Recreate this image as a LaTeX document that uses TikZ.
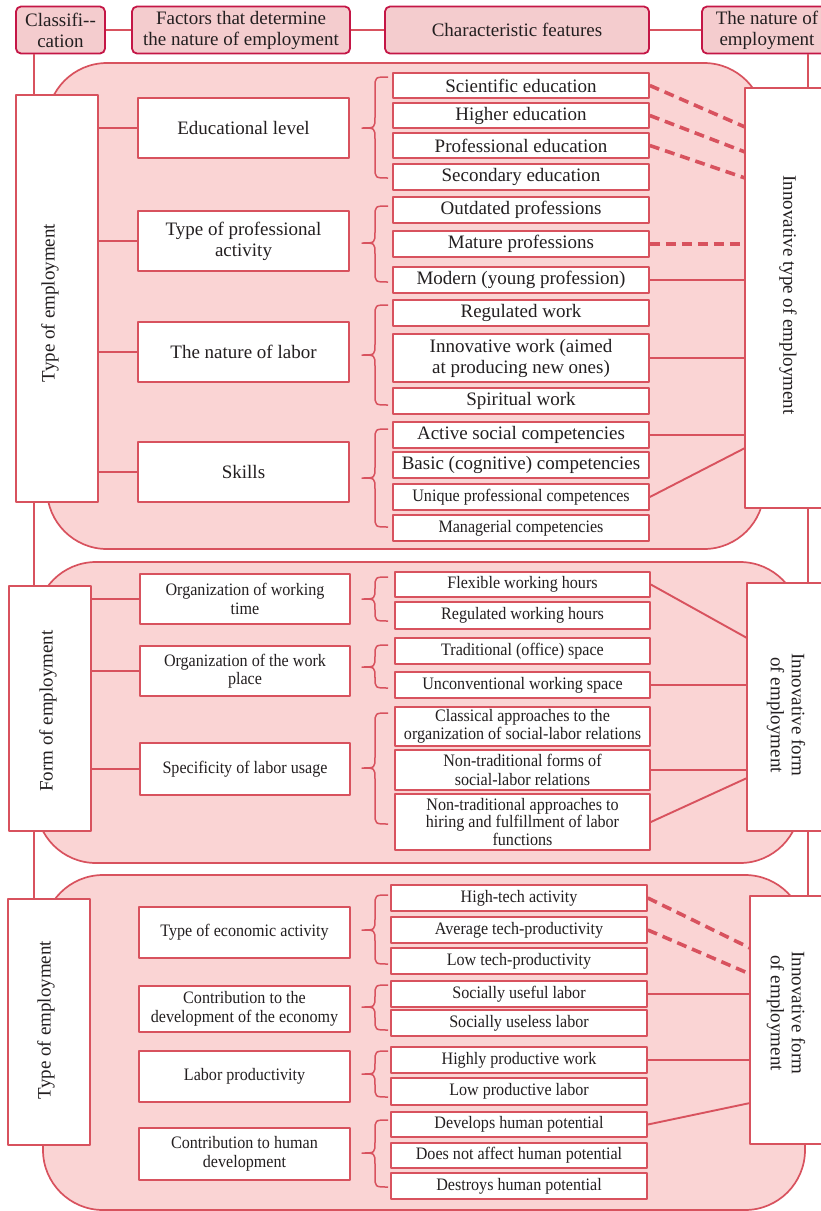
\documentclass[tikz,border=0pt]{standalone}
\usepackage{fontspec}
\setmainfont{Liberation Serif}
\newfontfamily\condfont[FakeStretch=0.92]{Liberation Serif}
\usepackage{tikz}
\usetikzlibrary{calc}

\definecolor{linered}{RGB}{216,82,94}
\definecolor{hdrred}{RGB}{196,22,70}
\definecolor{hdrfill}{RGB}{244,204,206}
\definecolor{panelfill}{RGB}{250,212,212}
\definecolor{txtgray}{RGB}{35,31,32}

% Curly brace in front of a group of features: top, tip, bottom
\newcommand{\featbrace}[3]{%
    \draw[brc] (388,#1) .. controls (375,#1) .. (375,#1+11) -- (375,#2-11)
        .. controls (375,#2) .. (362,#2) .. controls (375,#2) .. (375,#2+11)
        -- (375,#3-11) .. controls (375,#3) .. (388,#3);}

\begin{document}
\begin{tikzpicture}[x=1pt, y=-1pt, line join=round]
        % Looks of the boxes and lines
        \tikzset{
            bigtxt/.style={font=\fontsize{19}{21}\selectfont, text=txtgray},
            smalltxt/.style={font=\condfont\fontsize{17.5}{18.5}\selectfont, text=txtgray},
            hdr/.style={draw=hdrred, fill=hdrfill, line width=1.8pt, rounded corners=5pt,
                align=center, inner sep=0pt, minimum height=47pt, bigtxt},
            side/.style={draw=linered, fill=white, line width=1.7pt, inner sep=0pt},
            fact/.style={draw=linered, fill=white, line width=1.7pt, align=center,
                inner sep=0pt, minimum width=211pt},
            feat/.style={draw=linered, fill=white, line width=1.7pt, align=center,
                inner sep=0pt, minimum width=256pt, minimum height=25pt},
            panel/.style={draw=linered, fill=panelfill, line width=1.7pt, rounded corners=60pt},
            link/.style={draw=linered, line width=1.9pt},
            dlink/.style={draw=linered, line width=3.6pt, dash pattern=on 10pt off 6pt},
            brc/.style={draw=linered, line width=1.5pt},
        }

        \useasboundingbox (0,0) rectangle (821,1211);

        % Pink panels behind each classification
        \draw[panel] (47,63) rectangle (764,549);
        \draw[panel] (36,562) rectangle (800,863);
        \draw[panel] (43,875) rectangle (805,1210);

        % Header row
        \node[hdr, minimum width=89pt] (cls) at (60.5,30) {Classifi-{}-\\cation};
        \node[hdr, minimum width=218pt] (fac) at (241,30) {Factors that determine\\the nature of employment};
        \node[hdr, minimum width=264pt] (chr) at (517,30) {Characteristic features};
        \node[hdr, minimum width=130pt] (nat) at (767,30) {The nature of\\employment};

        % Classification boxes on the left
        \node[side, minimum width=82pt, minimum height=407pt] (lt1) at (57,298.5) {};
        \node[side, minimum width=82pt, minimum height=245pt] (lt2) at (50,708.5) {};
        \node[side, minimum width=82pt, minimum height=246pt] (lt3) at (49,1022) {};
        \node[bigtxt, rotate=90] at (50,303) {Type of employment};
        \node[bigtxt, rotate=90] at (48,711) {Form of employment};
        \node[bigtxt, rotate=90] at (46,1020) {Type of employment};

        % Nature of employment boxes on the right
        \node[side, minimum width=90pt, minimum height=420pt] (rt1) at (790,298) {};
        \node[side, minimum width=88pt, minimum height=248pt] (rt2) at (791,707) {};
        \node[side, minimum width=85pt, minimum height=248pt] (rt3) at (792.5,1020) {};
        \node[bigtxt, rotate=-90] at (788,295) {Innovative type of employment};
        \node[bigtxt, rotate=-90, align=center] at (786,715) {Innovative form\\of employment};
        \node[bigtxt, rotate=-90, align=center] at (786,1013) {Innovative form\\of employment};

        % First panel: factors
        \begin{scope}[bigtxt]
            \node[fact, minimum height=60pt] (f11) at (243.5,128) {Educational level};
            \node[fact, minimum height=60pt] (f12) at (243.5,241) {Type of professional\\activity};
            \node[fact, minimum height=60pt] (f13) at (243.5,352) {The nature of labor};
            \node[fact, minimum height=60pt] (f14) at (243.5,472) {Skills};
        \end{scope}

        % First panel: features
        \begin{scope}[bigtxt]
            \node[feat] (s1) at (521,85.5) {Scientific education};
            \node[feat] (s2) at (521,115.5) {Higher education};
            \node[feat] (s3) at (521,145.5) {Professional education};
            \node[feat, minimum height=26pt] (s4) at (521,177) {Secondary education};
            \node[feat, minimum height=26pt] (s5) at (521,210) {Outdated professions};
            \node[feat, minimum height=26pt] (s6) at (521,244) {Mature professions};
            \node[feat, minimum height=26pt] (s7) at (521,280) {Modern (young profession)};
            \node[feat, minimum height=26pt] (s8) at (521,313) {Regulated work};
            \node[feat, minimum height=48pt] (s9) at (521,358) {Innovative work (aimed\\at producing new ones)};
            \node[feat, minimum height=26pt] (s10) at (521,401) {Spiritual work};
            \node[feat, minimum height=26pt] (s11) at (521,435) {Active social competencies};
            \node[feat, minimum height=26pt] (s12) at (521,465) {Basic (cognitive) competencies};
            \node[feat, minimum height=26pt, smalltxt] (s13) at (521,497) {Unique professional competences};
            \node[feat, minimum height=26pt, smalltxt] (s14) at (521,528) {Managerial competencies};
        \end{scope}

        % Second panel: factors and features
        \begin{scope}[smalltxt]
            \node[fact, minimum width=210pt, minimum height=50pt] (f21) at (245,599) {Organization of working\\time};
            \node[fact, minimum width=210pt, minimum height=50pt] (f22) at (245,671) {Organization of the work\\place};
            \node[fact, minimum width=210pt, minimum height=52pt] (f23) at (245,769) {Specificity of labor usage};

            \node[feat, minimum width=255pt] (t1) at (522.5,584.5) {Flexible working hours};
            \node[feat, minimum width=255pt, minimum height=27pt] (t2) at (522.5,615.5) {Regulated working hours};
            \node[feat, minimum width=255pt, minimum height=26pt] (t3) at (522.5,651) {Traditional (office) space};
            \node[feat, minimum width=255pt, minimum height=26pt] (t4) at (522.5,685) {Unconventional working space};
            \node[feat, minimum width=255pt, minimum height=39pt] (t5) at (522.5,726.5) {Classical approaches to the\\organization of social-labor relations};
            \node[feat, minimum width=255pt, minimum height=40pt] (t6) at (522.5,770) {Non-traditional forms of\\social-labor relations};
            \node[feat, minimum width=255pt, minimum height=56pt, font=\condfont\fontsize{17.5}{16}\selectfont] (t7) at (522.5,822) {Non-traditional approaches to\\hiring and fulfillment of labor\\functions};
        \end{scope}

        % Third panel: factors and features
        \begin{scope}[smalltxt]
            \node[fact, minimum height=51pt] (f31) at (244.5,932.5) {Type of economic activity};
            \node[fact, minimum height=46pt] (f32) at (244.5,1009) {Contribution to the\\development of the economy};
            \node[fact, minimum height=51pt] (f33) at (244.5,1076.5) {Labor productivity};
            \node[fact, minimum height=52pt] (f34) at (244.5,1154) {Contribution to human\\development};

            \node[feat, minimum height=26pt] (u1) at (519,898) {High-tech activity};
            \node[feat, minimum height=26pt] (u2) at (519,930) {Average tech-productivity};
            \node[feat, minimum height=26pt] (u3) at (519,961) {Low tech-productivity};
            \node[feat, minimum height=26pt] (u4) at (519,994) {Socially useful labor};
            \node[feat, minimum height=26pt] (u5) at (519,1023) {Socially useless labor};
            \node[feat, minimum height=26pt] (u6) at (519,1060) {Highly productive work};
            \node[feat, minimum height=27pt] (u7) at (519,1091.5) {Low productive labor};
            \node[feat] (u8) at (519,1124.5) {Develops human potential};
            \node[feat] (u9) at (519,1155.5) {Does not affect human potential};
            \node[feat, minimum height=26pt] (u10) at (519,1186) {Destroys human potential};
        \end{scope}

        % Braces in front of the feature groups
        \featbrace{77}{128}{178}
        \featbrace{206}{243}{282}
        \featbrace{305}{355}{405}
        \featbrace{429}{478}{527}
        \featbrace{577}{599}{621}
        \featbrace{645}{667}{688}
        \featbrace{713}{768}{824}
        \featbrace{895}{930}{964}
        \featbrace{985}{1007}{1030}
        \featbrace{1051}{1074}{1097}
        \featbrace{1120}{1153}{1187}

        % Header links and the two vertical spines
        \coordinate (cl) at (34,0);
        \coordinate (cr) at (808,0);
        \begin{scope}[link]
            \draw (cls) -- (fac);
            \draw (fac) -- (chr);
            \draw (chr) -- (nat);

            \draw (cls.south -| cl) -- (lt1.north -| cl);
            \draw (lt1.south -| cl) -- (lt2.north -| cl);
            \draw (lt2.south -| cl) -- (lt3.north -| cl);
            \draw (nat.south -| cr) -- (rt1.north -| cr);
            \draw (rt1.south -| cr) -- (rt2.north -| cr);
            \draw (rt2.south -| cr) -- (rt3.north -| cr);
        \end{scope}

        % Classification to factors
        \begin{scope}[link]
            \draw (lt1.east |- f11.west) -- (f11.west);
            \draw (lt1.east |- f12.west) -- (f12.west);
            \draw (lt1.east |- f13.west) -- (f13.west);
            \draw (lt1.east |- f14.west) -- (f14.west);
            \draw (lt2.east |- f21.west) -- (f21.west);
            \draw (lt2.east |- f22.west) -- (f22.west);
            \draw (lt2.east |- f23.west) -- (f23.west);
        \end{scope}

        % Where the slanted links meet the right boxes
        \coordinate (ra) at (745,127);
        \coordinate (rb) at (745,152);
        \coordinate (rc) at (745,178);
        \coordinate (rd) at (745,448);
        \coordinate (re) at (747,638);
        \coordinate (rf) at (747,778);
        \coordinate (rg) at (750,948);
        \coordinate (rh) at (750,974);
        \coordinate (ri) at (750,1103);

        % Features to the nature of employment
        \begin{scope}[dlink]
            \draw (s1.east) -- (ra);
            \draw (s2.east) -- (rb);
            \draw (s3.east) -- (rc);
            \draw (s6.east) -- (s6.east -| rt1.west);
            \draw (u1.east) -- (rg);
            \draw (u2.east) -- (rh);
        \end{scope}

        \begin{scope}[link]
            \draw (s7.east) -- (s7.east -| rt1.west);
            \draw (s9.east) -- (s9.east -| rt1.west);
            \draw (s11.east) -- (s11.east -| rt1.west);
            \draw (s13.east) -- (rd);
            \draw (t1.east) -- (re);
            \draw (t4.east) -- (t4.east -| rt2.west);
            \draw (t6.east) -- (t6.east -| rt2.west);
            \draw (t7.east) -- (rf);
            \draw (u4.east) -- (u4.east -| rt3.west);
            \draw (u6.east) -- (u6.east -| rt3.west);
            \draw (u8.east) -- (ri);
        \end{scope}

\end{tikzpicture}
\end{document}
